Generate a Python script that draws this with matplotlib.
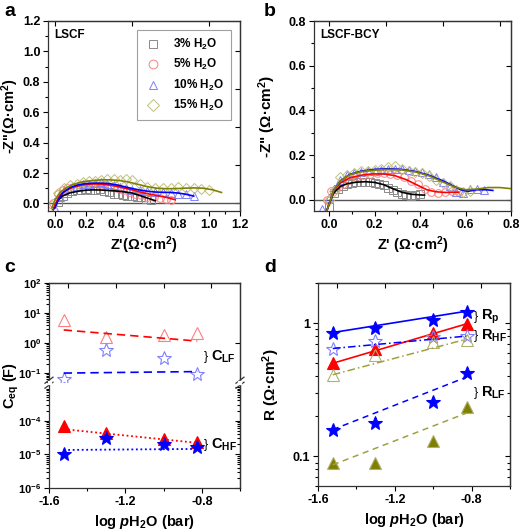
import numpy as np
import matplotlib
matplotlib.use('Agg')
import matplotlib.pyplot as plt
from matplotlib.ticker import MultipleLocator, FixedLocator, FuncFormatter, NullFormatter, LogLocator

plt.rcParams['font.family'] = ['Liberation Sans', 'DejaVu Sans']
plt.rcParams['font.weight'] = 'bold'
plt.rcParams['axes.labelweight'] = 'bold'
plt.rcParams['axes.unicode_minus'] = False
plt.rcParams['mathtext.fontset'] = 'custom'
plt.rcParams['mathtext.rm'] = 'Liberation Sans:bold'
plt.rcParams['mathtext.bf'] = 'Liberation Sans:bold'
plt.rcParams['mathtext.it'] = 'Liberation Sans:bold:italic'

# ---- panel a: LSCF Nyquist ----
a3_x = [0.02, 0.05, 0.08, 0.11, 0.14, 0.17, 0.2, 0.23, 0.26, 0.29, 0.32, 0.35, 0.38, 0.41, 0.44, 0.47, 0.5, 0.53, 0.56, 0.59, 0.62]
a3_y = [0.01, 0.05, 0.07, 0.08, 0.085, 0.09, 0.095, 0.09, 0.085, 0.095, 0.08, 0.075, 0.065, 0.06, 0.055, 0.05, 0.05, 0.045, 0.04, 0.03, 0.025]
a3_fx = [-0.01, 0.0, 0.02, 0.05, 0.1, 0.15, 0.2, 0.25, 0.3, 0.35, 0.4, 0.45, 0.5, 0.55, 0.6, 0.65]
a3_fy = [-0.04, -0.02, 0.02, 0.05, 0.07, 0.08, 0.087, 0.089, 0.088, 0.085, 0.081, 0.076, 0.068, 0.052, 0.035, 0.018]
a5_x = [-0.01, 0.02, 0.05, 0.08, 0.12, 0.16, 0.2, 0.24, 0.28, 0.32, 0.36, 0.40, 0.44, 0.48, 0.52, 0.56, 0.60, 0.64, 0.68, 0.72, 0.75]
a5_y = [0.0, 0.06, 0.09, 0.1, 0.11, 0.12, 0.125, 0.13, 0.128, 0.12, 0.11, 0.1, 0.09, 0.075, 0.065, 0.055, 0.045, 0.04, 0.035, 0.03, 0.025]
a5_fx = [-0.01, 0.0, 0.03, 0.07, 0.12, 0.18, 0.24, 0.30, 0.36, 0.42, 0.48, 0.54, 0.60, 0.66, 0.72, 0.78]
a5_fy = [-0.04, -0.01, 0.05, 0.085, 0.108, 0.122, 0.128, 0.127, 0.12, 0.108, 0.094, 0.078, 0.064, 0.052, 0.04, 0.024]
a10_x = [0.0, 0.03, 0.06, 0.1, 0.14, 0.18, 0.22, 0.26, 0.3, 0.34, 0.38, 0.42, 0.46, 0.5, 0.55, 0.6, 0.65, 0.7, 0.75, 0.8, 0.85, 0.9]
a10_y = [-0.04, 0.04, 0.08, 0.1, 0.115, 0.125, 0.13, 0.135, 0.14, 0.13, 0.12, 0.11, 0.1, 0.09, 0.085, 0.08, 0.075, 0.075, 0.07, 0.065, 0.06, 0.05]
a10_fx = [0.0, 0.02, 0.05, 0.1, 0.15, 0.2, 0.25, 0.3, 0.35, 0.4, 0.45, 0.5, 0.55, 0.6, 0.65, 0.7, 0.75, 0.8, 0.85, 0.9]
a10_fy = [-0.03, 0.02, 0.07, 0.105, 0.122, 0.13, 0.133, 0.133, 0.13, 0.122, 0.11, 0.098, 0.088, 0.08, 0.075, 0.073, 0.072, 0.068, 0.06, 0.048]
a15_x = [-0.02, 0.02, 0.06, 0.1, 0.14, 0.18, 0.22, 0.26, 0.3, 0.34, 0.38, 0.42, 0.46, 0.5, 0.55, 0.6, 0.65, 0.7, 0.75, 0.8, 0.85, 0.9, 0.95, 1.0]
a15_y = [-0.01, 0.07, 0.1, 0.12, 0.13, 0.14, 0.145, 0.15, 0.155, 0.16, 0.16, 0.155, 0.16, 0.155, 0.13, 0.11, 0.1, 0.1, 0.1, 0.105, 0.1, 0.1, 0.095, 0.09]
a15_fx = [-0.02, 0.0, 0.03, 0.07, 0.12, 0.18, 0.24, 0.3, 0.36, 0.42, 0.48, 0.54, 0.6, 0.66, 0.72, 0.78, 0.84, 0.9, 0.96, 1.02, 1.08]
a15_fy = [-0.03, 0.02, 0.07, 0.1, 0.125, 0.142, 0.15, 0.155, 0.155, 0.15, 0.14, 0.125, 0.11, 0.1, 0.097, 0.097, 0.1, 0.102, 0.1, 0.09, 0.072]

# ---- panel b: LSCF-BCY Nyquist ----
b3_x = [0.0, 0.02, 0.04, 0.06, 0.08, 0.1, 0.12, 0.14, 0.16, 0.18, 0.2, 0.22, 0.24, 0.26, 0.28, 0.3, 0.32, 0.34, 0.36, 0.38, 0.4]
b3_y = [-0.03, 0.03, 0.05, 0.06, 0.07, 0.075, 0.08, 0.08, 0.078, 0.08, 0.075, 0.07, 0.065, 0.055, 0.045, 0.035, 0.025, 0.02, 0.015, 0.02, 0.025]
b3_fx = [-0.01, 0.0, 0.02, 0.05, 0.08, 0.12, 0.16, 0.2, 0.24, 0.28, 0.32, 0.36, 0.4, 0.42]
b3_fy = [-0.05, -0.02, 0.03, 0.06, 0.072, 0.079, 0.081, 0.078, 0.068, 0.05, 0.034, 0.025, 0.022, 0.021]
b5_x = [-0.01, 0.01, 0.03, 0.06, 0.09, 0.12, 0.15, 0.18, 0.21, 0.24, 0.27, 0.3, 0.33, 0.36, 0.39, 0.42, 0.45, 0.48, 0.51, 0.54, 0.57]
b5_y = [0.0, 0.04, 0.05, 0.07, 0.09, 0.1, 0.11, 0.115, 0.12, 0.12, 0.115, 0.11, 0.1, 0.085, 0.07, 0.05, 0.035, 0.03, 0.035, 0.04, 0.035]
b5_fx = [-0.01, 0.0, 0.02, 0.05, 0.09, 0.14, 0.19, 0.24, 0.29, 0.34, 0.39, 0.43, 0.47, 0.51, 0.55, 0.57]
b5_fy = [-0.05, -0.02, 0.04, 0.075, 0.098, 0.11, 0.116, 0.116, 0.108, 0.09, 0.065, 0.045, 0.036, 0.033, 0.034, 0.034]
b10_x = [-0.03, 0.0, 0.02, 0.05, 0.08, 0.11, 0.14, 0.17, 0.2, 0.23, 0.26, 0.29, 0.32, 0.35, 0.38, 0.41, 0.44, 0.47, 0.5, 0.53, 0.56, 0.59, 0.62, 0.65, 0.68]
b10_y = [-0.04, 0.01, 0.05, 0.09, 0.11, 0.12, 0.125, 0.13, 0.13, 0.135, 0.14, 0.14, 0.14, 0.135, 0.13, 0.125, 0.115, 0.1, 0.08, 0.06, 0.035, 0.03, 0.05, 0.05, 0.045]
b10_fx = [-0.01, 0.0, 0.02, 0.05, 0.09, 0.14, 0.2, 0.26, 0.32, 0.38, 0.44, 0.5, 0.54, 0.58, 0.61, 0.65, 0.69, 0.72]
b10_fy = [-0.05, -0.02, 0.04, 0.085, 0.113, 0.128, 0.136, 0.139, 0.136, 0.127, 0.11, 0.085, 0.065, 0.045, 0.038, 0.045, 0.045, 0.042]
b15_x = [0.0, 0.02, 0.05, 0.08, 0.11, 0.14, 0.17, 0.2, 0.23, 0.26, 0.29, 0.32, 0.35, 0.38, 0.41, 0.44, 0.47, 0.5, 0.53, 0.56, 0.59, 0.62]
b15_y = [0.0, 0.04, 0.1, 0.11, 0.12, 0.13, 0.13, 0.135, 0.14, 0.145, 0.15, 0.14, 0.13, 0.125, 0.12, 0.105, 0.09, 0.075, 0.06, 0.045, 0.035, 0.04]
b15_fx = [-0.01, 0.0, 0.02, 0.05, 0.09, 0.14, 0.2, 0.26, 0.32, 0.38, 0.44, 0.5, 0.55, 0.6, 0.65, 0.7, 0.75, 0.8]
b15_fy = [-0.05, -0.02, 0.04, 0.085, 0.112, 0.126, 0.133, 0.136, 0.134, 0.125, 0.107, 0.08, 0.058, 0.045, 0.048, 0.055, 0.055, 0.05]

# ---- panels c, d: vs log pH2O ----
log_ph2o = [-1.523, -1.301, -1.0, -0.824]
fit_x = [-1.523, -0.824]

c_lf_tri = [5.7, 1.6, 1.8, 2.2]
c_lf_tri_fit = [2.7, 1.15]
c_lf_star = [0.063, 0.57, 0.31, 0.093]
c_lf_star_fit = [0.098, 0.11]
c_hf_tri = [7.0e-5, 4.4e-5, 2.8e-5, 2.3e-5]
c_hf_tri_fit = [5.6e-5, 2.2e-5]
c_hf_star = [1.04e-5, 3.0e-5, 2.0e-5, 1.6e-5]
c_hf_star_fit = [1.35e-5, 1.45e-5]

d_rp_star = [0.84, 0.92, 1.05, 1.21]
d_rp_star_fit = [0.85, 1.23]
d_rp_tri = [0.50, 0.645, 0.85, 0.99]
d_rp_tri_fit = [0.50, 0.99]
d_hf_star = [0.645, 0.74, 0.79, 0.80]
d_hf_star_fit = [0.645, 0.80]
d_hf_tri = [0.41, 0.577, 0.72, 0.75]
d_hf_tri_fit = [0.41, 0.76]
d_lf_star = [0.157, 0.178, 0.258, 0.42]
d_lf_star_fit = [0.159, 0.395]
d_lf_tri = [0.09, 0.0885, 0.13, 0.233]
d_lf_tri_fit = [0.0865, 0.212]

W, H = 519, 532
fig = plt.figure(figsize=(W / 100, H / 100), dpi=100)


def box(l, t, r, b):
    return [l / W, 1 - b / H, (r - l) / W, (b - t) / H]


def frame(ax, right=True, top=True, labelsize=9):
    ax.tick_params(which='both', direction='out', labelsize=labelsize, width=0.8, pad=2)
    ax.tick_params(which='major', length=3.5)
    ax.tick_params(which='minor', length=2)
    for s in ax.spines.values():
        s.set_linewidth(0.9)
        s.set_color('#333333')
    if right:
        sy = ax.secondary_yaxis('right')
        sy.tick_params(which='both', direction='in', labelright=False, width=0.8)
        sy.tick_params(which='major', length=3.5)
        sy.tick_params(which='minor', length=2)
        sy.spines['right'].set_linewidth(0.9)
        sy.spines['right'].set_color('#333333')
    if top:
        sx = ax.secondary_xaxis('top')
        sx.tick_params(which='both', direction='in', labeltop=False, width=0.8)
        sx.tick_params(which='major', length=3.5)
        sx.tick_params(which='minor', length=2)
        sx.spines['top'].set_linewidth(0.9)
        sx.spines['top'].set_color('#333333')


gray, lred, lblue, lolive = '#8a8a8a', '#ff7f7f', '#8080ff', '#c0c080'
olive = '#808000'
mk = dict(ls='none', mfc='none', ms=5.5, mew=0.7)
one_dec = FuncFormatter(lambda v, p: f'{v:.1f}')

# ---- a ----
ax = fig.add_axes(box(48, 21, 240, 211))
ax.axhline(0, color='#555555', lw=1)
ax.plot(a3_x, a3_y, marker='s', mec=gray, label='3% H$_2$O', **mk)
ax.plot(a5_x, a5_y, marker='o', mec=lred, label='5% H$_2$O', **mk)
ax.plot(a10_x, a10_y, marker='^', mec=lblue, label='10% H$_2$O', **mk)
ax.plot(a15_x, a15_y, marker='D', mec=lolive, label='15% H$_2$O', **{**mk, 'ms': 5})
ax.plot(a3_fx, a3_fy, color='black', lw=1.2)
ax.plot(a5_fx, a5_fy, color='red', lw=1.2)
ax.plot(a10_fx, a10_fy, color='blue', lw=1.2)
ax.plot(a15_fx, a15_fy, color=olive, lw=1.2)
ax.set_xlim(-0.045, 1.2)
ax.set_ylim(-0.05, 1.2)
ax.xaxis.set_major_locator(MultipleLocator(0.2))
ax.xaxis.set_minor_locator(MultipleLocator(0.1))
ax.yaxis.set_major_locator(MultipleLocator(0.2))
ax.yaxis.set_minor_locator(MultipleLocator(0.1))
ax.xaxis.set_major_formatter(one_dec)
ax.yaxis.set_major_formatter(one_dec)
frame(ax)
ax.set_xlabel("Z'(Ω·cm$^2$)", fontsize=10.5, labelpad=3)
ax.set_ylabel('-Z"(Ω·cm$^2$)', fontsize=10.5, labelpad=1)
ax.text(0.03, 0.96, 'LSCF', transform=ax.transAxes, fontsize=8.5, va='top')
leg = ax.legend(loc='upper right', bbox_to_anchor=(0.985, 0.985), fontsize=8.5,
                frameon=True, fancybox=False, edgecolor='#888888', handletextpad=0.9,
                borderpad=0.6, labelspacing=0.45, markerscale=1.15, handlelength=1.6)
leg.get_frame().set_linewidth(0.8)
fig.text(4 / W, 1 - 12 / H, 'a', fontsize=14, va='center')

# ---- b ----
ax = fig.add_axes(box(314, 21, 511, 211))
ax.axhline(0, color='#555555', lw=1)
ax.plot(b3_x, b3_y, marker='s', mec=gray, **mk)
ax.plot(b5_x, b5_y, marker='o', mec=lred, **mk)
ax.plot(b10_x, b10_y, marker='^', mec=lblue, **mk)
ax.plot(b15_x, b15_y, marker='D', mec=lolive, **{**mk, 'ms': 5})
ax.plot(b3_fx, b3_fy, color='black', lw=1.2)
ax.plot(b5_fx, b5_fy, color='red', lw=1.2)
ax.plot(b10_fx, b10_fy, color='blue', lw=1.2)
ax.plot(b15_fx, b15_fy, color=olive, lw=1.2)
ax.set_xlim(-0.066, 0.8)
ax.set_ylim(-0.05, 0.8)
ax.xaxis.set_major_locator(MultipleLocator(0.2))
ax.xaxis.set_minor_locator(MultipleLocator(0.1))
ax.yaxis.set_major_locator(MultipleLocator(0.2))
ax.yaxis.set_minor_locator(MultipleLocator(0.1))
ax.xaxis.set_major_formatter(one_dec)
ax.yaxis.set_major_formatter(one_dec)
frame(ax)
ax.set_xlabel("Z' (Ω·cm$^2$)", fontsize=10.5, labelpad=3)
ax.set_ylabel('-Z" (Ω·cm$^2$)', fontsize=11, labelpad=8)
ax.text(0.03, 0.96, 'LSCF-BCY', transform=ax.transAxes, fontsize=8.5, va='top')
fig.text(264 / W, 1 - 12 / H, 'b', fontsize=14, va='center')

# ---- c (broken log axis) ----
sci = FuncFormatter(lambda v, p: r'$10^{%d}$' % round(np.log10(v)))
split = 382.7
ct = fig.add_axes(box(49, 283, 240, split))
cb = fig.add_axes(box(49, split, 240, 488))
big = dict(ls='none', ms=9, mew=0.8)
ct.plot(log_ph2o, c_lf_tri, marker='^', mfc='none', mec=lred, **big)
ct.plot(log_ph2o, c_lf_star, marker='*', mfc='none', mec=lblue, **{**big, 'ms': 10})
ct.plot(fit_x, c_lf_tri_fit, color='red', ls=(0, (5, 3)), lw=1.2)
ct.plot(fit_x, c_lf_star_fit, color='blue', ls=(0, (5, 3)), lw=1.2)
cb.plot(log_ph2o, c_hf_tri, marker='^', color='red', **big)
cb.plot(log_ph2o, c_hf_star, marker='*', color='blue', **{**big, 'ms': 10})
cb.plot(fit_x, c_hf_tri_fit, color='red', ls=(0, (1, 1.5)), lw=1.3)
cb.plot(fit_x, c_hf_star_fit, color='blue', ls=(0, (1, 1.5)), lw=1.3)
for a_, majors in ((ct, [0.1, 1, 10, 100]), (cb, [1e-6, 1e-5, 1e-4])):
    a_.set_yscale('log')
    a_.set_xlim(-1.6, -0.6)
    a_.xaxis.set_major_locator(MultipleLocator(0.4))
    a_.xaxis.set_minor_locator(MultipleLocator(0.2))
    a_.yaxis.set_major_locator(FixedLocator(majors))
    a_.yaxis.set_minor_locator(LogLocator(base=10, subs=np.arange(2, 10), numticks=20))
    a_.yaxis.set_major_formatter(sci)
    a_.yaxis.set_minor_formatter(NullFormatter())
ct.set_ylim(10 ** -1.33, 100)
cb.set_ylim(1e-6, 10 ** -2.87)
ct.spines['bottom'].set_visible(False)
cb.spines['top'].set_visible(False)
frame(ct, right=True, top=True, labelsize=8)
frame(cb, right=True, top=False, labelsize=8)
ct.tick_params(axis='x', which='both', bottom=False, labelbottom=False)
cb.tick_params(axis='x', labelsize=9)
cb.xaxis.set_major_formatter(one_dec)
ct.text(-0.79, 0.35, '}', fontsize=9, fontweight='normal', va='center')
ct.text(-0.75, 0.35, 'C$_\\mathrm{LF}$', fontsize=10.5, va='center')
cb.text(-0.79, 1.9e-5, '}', fontsize=9, fontweight='normal', va='center')
cb.text(-0.75, 1.9e-5, 'C$_\\mathrm{HF}$', fontsize=10.5, va='center')
for xf in (49 / W, 240 / W):
    for dy in (-2.5, 2.5):
        yy = 1 - (split + dy) / H
        fig.add_artist(plt.Line2D([xf - 4 / W, xf + 4 / W], [yy - 3 / H, yy + 3 / H],
                                  color='#333333', lw=0.9))
    fig.add_artist(plt.Rectangle((xf - 1.5 / W, 1 - (split + 1.5) / H), 3 / W, 3 / H,
                                 color='white', zorder=5))
cb.set_xlabel(r'log $p$H$_2$O (bar)', fontsize=10.5, labelpad=4)
fig.text(11 / W, 1 - 385 / H, 'C$_\\mathrm{eq}$ (F)', rotation=90, fontsize=10.5,
         fontweight='bold', va='center', ha='center')
fig.text(4 / W, 1 - 267 / H, 'c', fontsize=14, va='center')

# ---- d ----
ax = fig.add_axes(box(318, 283, 510, 486))
ax.plot(log_ph2o, d_rp_star, marker='*', color='blue', **{**big, 'ms': 10})
ax.plot(fit_x, d_rp_star_fit, color='blue', lw=1.2)
ax.plot(log_ph2o, d_rp_tri, marker='^', color='red', **big)
ax.plot(fit_x, d_rp_tri_fit, color='red', lw=1.2)
ax.plot(log_ph2o, d_hf_star, marker='*', mfc='none', mec=lblue, **{**big, 'ms': 10})
ax.plot(fit_x, d_hf_star_fit, color='blue', ls=(0, (5, 2, 1, 2)), lw=1.1)
ax.plot(log_ph2o, d_hf_tri, marker='^', mfc='none', mec='#b0b070', **big)
ax.plot(fit_x, d_hf_tri_fit, color='#a0a040', ls=(0, (5, 2, 1, 2)), lw=1.1)
ax.plot(log_ph2o, d_lf_star, marker='*', color='blue', **{**big, 'ms': 10})
ax.plot(fit_x, d_lf_star_fit, color='blue', ls=(0, (4, 3)), lw=1.1)
ax.plot(log_ph2o, d_lf_tri, marker='^', color=olive, mec='#b0b070', ls='none', ms=9, mew=0.8)
ax.plot(fit_x, d_lf_tri_fit, color='#a0a040', ls=(0, (4, 3)), lw=1.1)
ax.set_yscale('log')
ax.set_xlim(-1.6, -0.6)
ax.set_ylim(0.06, 2.0)
ax.xaxis.set_major_locator(MultipleLocator(0.4))
ax.xaxis.set_minor_locator(MultipleLocator(0.2))
ax.xaxis.set_major_formatter(one_dec)
ax.yaxis.set_major_locator(FixedLocator([0.1, 1]))
ax.yaxis.set_major_formatter(FuncFormatter(lambda v, p: '1' if v >= 1 else '0.1'))
ax.yaxis.set_minor_locator(LogLocator(base=10, subs=np.arange(2, 10), numticks=20))
ax.yaxis.set_minor_formatter(NullFormatter())
frame(ax)
ax.text(-0.79, 1.11, '}', fontsize=9, fontweight='normal', va='center')
ax.text(-0.75, 1.11, 'R$_\\mathrm{p}$', fontsize=10.5, va='center')
ax.text(-0.79, 0.80, '}', fontsize=9, fontweight='normal', va='center')
ax.text(-0.75, 0.80, 'R$_\\mathrm{HF}$', fontsize=10.5, va='center')
ax.text(-0.79, 0.30, '}', fontsize=9, fontweight='normal', va='center')
ax.text(-0.75, 0.30, 'R$_\\mathrm{LF}$', fontsize=10.5, va='center')
ax.set_xlabel(r'log $p$H$_2$O (bar)', fontsize=10.5, labelpad=4)
ax.set_ylabel('R (Ω·cm$^2$)', fontsize=11, labelpad=8)
fig.text(264 / W, 1 - 267 / H, 'd', fontsize=14, va='center')

fig.savefig('out.png', dpi=100)
